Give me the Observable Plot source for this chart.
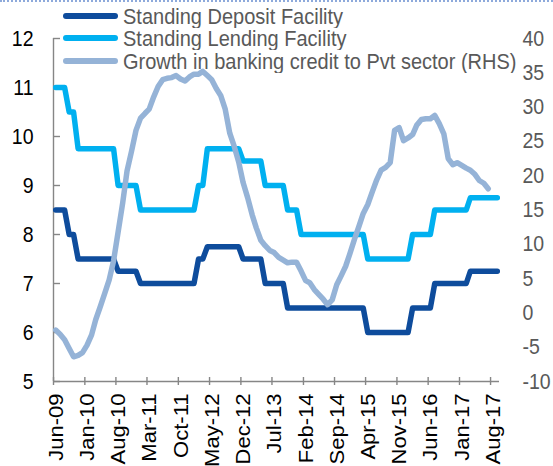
<!DOCTYPE html>
<html><head><meta charset="utf-8">
<script src="https://cdn.jsdelivr.net/npm/d3@7"></script>
<script src="https://cdn.jsdelivr.net/npm/@observablehq/plot@0.6"></script>
<style>
html,body{margin:0;padding:0;background:#fff;}
#wrap{position:relative;width:553px;height:466px;overflow:hidden;font-family:"Liberation Sans",Arial,sans-serif;}
#topline{position:absolute;left:0;top:0;width:553px;height:0;border-top:2px dotted #8eaadb;z-index:3;}
#chart svg{position:absolute;left:0;top:0;}
.row{position:absolute;left:63px;height:20px;white-space:nowrap;z-index:2;}
.sw{position:absolute;left:0;top:7px;width:55px;height:6px;border-radius:3px;}
.lab{position:absolute;left:60px;top:0;font-size:20px;line-height:20px;color:#595959;transform:scaleY(1.08);transform-origin:left center;}
</style></head>
<body><div id="wrap"><div id="topline"></div><div id="chart"></div><div id="legend"></div></div>
<script>
// ---- data (monthly, from Jun-2009) ----
const startYear = 2009, startMonth = 5; // June (0-based)
const nMonths = 100; // Jun-09 .. Sep-17 on the category axis
const tickLabels = ["Jun-09","Jan-10","Aug-10","Mar-11","Oct-11","May-12","Dec-12","Jul-13","Feb-14","Sep-14","Apr-15","Nov-15","Jun-16","Jan-17","Aug-17"];
const seriesNames = ["Standing Deposit Facility","Standing Lending Facility","Growth in banking credit to Pvt sector (RHS)"];
const seriesColors = ["#0e4c9c","#00b0f0","#95b3d7"];
const sdf = [8.5,8.5,8.5,8,8,7.5,7.5,7.5,7.5,7.5,7.5,7.5,7.5,7.5,
  7.25,7.25,7.25,7.25,7.25,
  7,7,7,7,7,7,7,7,7,7,7,7,7,
  7.5,7.5,
  7.75,7.75,7.75,7.75,7.75,7.75,7.75,7.75,
  7.5,7.5,7.5,7.5,7.5,
  7,7,7,7,7,
  6.5,6.5,6.5,6.5,6.5,6.5,6.5,6.5,6.5,6.5,6.5,6.5,6.5,6.5,6.5,6.5,6.5,6.5,
  6,6,6,6,6,6,6,6,6,6,
  6.5,6.5,6.5,6.5,6.5,
  7,7,7,7,7,7,7,7,
  7.25,7.25,7.25,7.25,7.25,7.25,7.25];
const slf = [11,11,11,10.5,10.5,
  9.75,9.75,9.75,9.75,9.75,9.75,9.75,9.75,9.75,
  9,9,9,9,9,
  8.5,8.5,8.5,8.5,8.5,8.5,8.5,8.5,8.5,8.5,8.5,8.5,8.5,
  9,9,
  9.75,9.75,9.75,9.75,9.75,9.75,9.75,9.75,
  9.5,9.5,9.5,9.5,9.5,
  9,9,9,9,9,
  8.5,8.5,8.5,
  8,8,8,8,8,8,8,8,8,8,8,8,8,8,8,
  7.5,7.5,7.5,7.5,7.5,7.5,7.5,7.5,7.5,7.5,
  8,8,8,8,8,
  8.5,8.5,8.5,8.5,8.5,8.5,8.5,8.5,
  8.75,8.75,8.75,8.75,8.75,8.75,8.75];
const growth = [-2.5,-3.1,-3.9,-5.2,-6.4,-6.2,-5.8,-4.7,-3.2,-1.0,
  0.9,2.8,4.8,7.6,11.8,16.0,20.7,23.6,26.6,28.4,
  29.1,29.7,31.5,33.0,34.0,34.2,34.3,34.6,34.1,33.8,
  34.4,34.8,34.8,35.2,34.6,34.0,32.7,31.7,29.7,26.2,
  24.3,22.0,19.0,16.8,14.3,12.4,10.6,9.8,9.1,8.8,
  8.1,7.7,7.3,7.4,7.4,6.1,4.7,4.4,3.4,2.7,
  2.0,1.2,1.9,4.1,5.4,6.8,8.7,10.8,12.7,14.5,
  15.8,17.6,19.4,20.8,21.2,21.9,26.6,27.0,25.1,25.5,
  26.0,27.4,28.2,28.3,28.3,28.8,27.6,26.1,22.5,21.6,
  21.9,21.5,21.1,20.8,20.2,19.3,18.9,18.1];
const leftTicks = [5,6,7,8,9,10,11,12];
const rightTicks = [-10,-5,0,5,10,15,20,25,30,35,40];
const leftDomain = [5,12], rightDomain = [-10,40];

// ---- helpers ----
const monthStart = i => new Date(Date.UTC(startYear, startMonth + i, 1));
const monthMid = i => new Date(Date.UTC(startYear, startMonth + i, 16)); // category centre
const toLeft = g => leftDomain[0] + (g - rightDomain[0]) * (leftDomain[1]-leftDomain[0]) / (rightDomain[1]-rightDomain[0]);
const fromLeft = v => Math.round(rightDomain[0] + (v - leftDomain[0]) * (rightDomain[1]-rightDomain[0]) / (leftDomain[1]-leftDomain[0]));
const parseLab = d3.utcParse("%b-%y");
const tickDates = tickLabels.map(parseLab);

const rows = [];
sdf.forEach((v,i) => rows.push({s: seriesNames[0], date: monthMid(i), y: v}));
slf.forEach((v,i) => rows.push({s: seriesNames[1], date: monthMid(i), y: v}));
const grows = growth.map((v,i) => ({s: seriesNames[2], date: monthMid(i), y: toLeft(v)}));

const W = 553, H = 466, mL = 53, mR = 54, mT = 38, mB = 85;
const plotW = W - mL - mR, plotH = H - mT - mB;
const axisGrey = "#868686";
const FS = 19.5;

const svg = Plot.plot({
  width: W, height: H,
  marginLeft: mL, marginRight: mR, marginTop: mT, marginBottom: mB,
  x: {type: "utc", domain: [monthStart(0), monthStart(nMonths)]},
  y: {domain: leftDomain},
  style: {fontFamily: "'Liberation Sans', Arial, sans-serif", fontSize: FS + "px", background: "transparent", overflow: "visible"},
  marks: [
    Plot.ruleY([leftDomain[0]], {stroke: axisGrey, strokeWidth: 1.4}),
    Plot.ruleX([monthStart(0)], {stroke: axisGrey, strokeWidth: 1.4}),
    Plot.tickY(leftTicks, {y: d => d, stroke: axisGrey, strokeWidth: 1.4, insetRight: plotW - 7}),
    Plot.tickX(tickDates, {x: d => d, stroke: axisGrey, strokeWidth: 1.4, insetTop: plotH - 4, insetBottom: -4}),
    Plot.axisY(leftTicks, {anchor: "left", tickSize: 0, tickPadding: 20, fill: "#000", color: "#000", fontSize: FS, label: null}),
    Plot.axisY(rightTicks.map(toLeft), {anchor: "right", tickSize: 0, tickPadding: 23, fill: "#595959", color: "#595959", fontSize: FS, label: null, tickFormat: v => String(fromLeft(v))}),
    Plot.axisX(tickDates, {anchor: "bottom", tickSize: 0, tickPadding: 12, tickRotate: -90, dx: 3, fill: "#000", color: "#000", fontSize: FS, label: null, tickFormat: (d, i) => tickLabels[i]}),
    Plot.line(rows, {x: "date", y: "y", z: "s", stroke: d => d.s, strokeWidth: 5.5, strokeLinejoin: "round", strokeLinecap: "round"}),
    Plot.line(grows, {x: "date", y: "y", stroke: seriesColors[2], strokeWidth: 5.5, strokeLinejoin: "round", strokeLinecap: "round"})
  ],
  color: {domain: seriesNames, range: seriesColors}
});

// vertical stretch of the text, as in the original picture
svg.querySelectorAll("text").forEach(t => {
  const tr = t.getAttribute("transform");
  if (tr && tr.includes("translate(")) t.setAttribute("transform", tr.replace(/(translate\([^)]*\))/, "$1 scale(1,1.13)"));
});
document.getElementById("chart").append(svg);

// legend
const legendY = [16, 38, 61];
const leg = document.getElementById("legend");
seriesNames.forEach((name, i) => {
  const r = document.createElement("div");
  r.className = "row";
  r.style.top = (legendY[i] - 10) + "px";
  const sw = document.createElement("div");
  sw.className = "sw"; sw.style.background = seriesColors[i];
  const lab = document.createElement("div");
  lab.className = "lab"; lab.textContent = name;
  r.append(sw, lab);
  leg.append(r);
});
</script></body></html>
